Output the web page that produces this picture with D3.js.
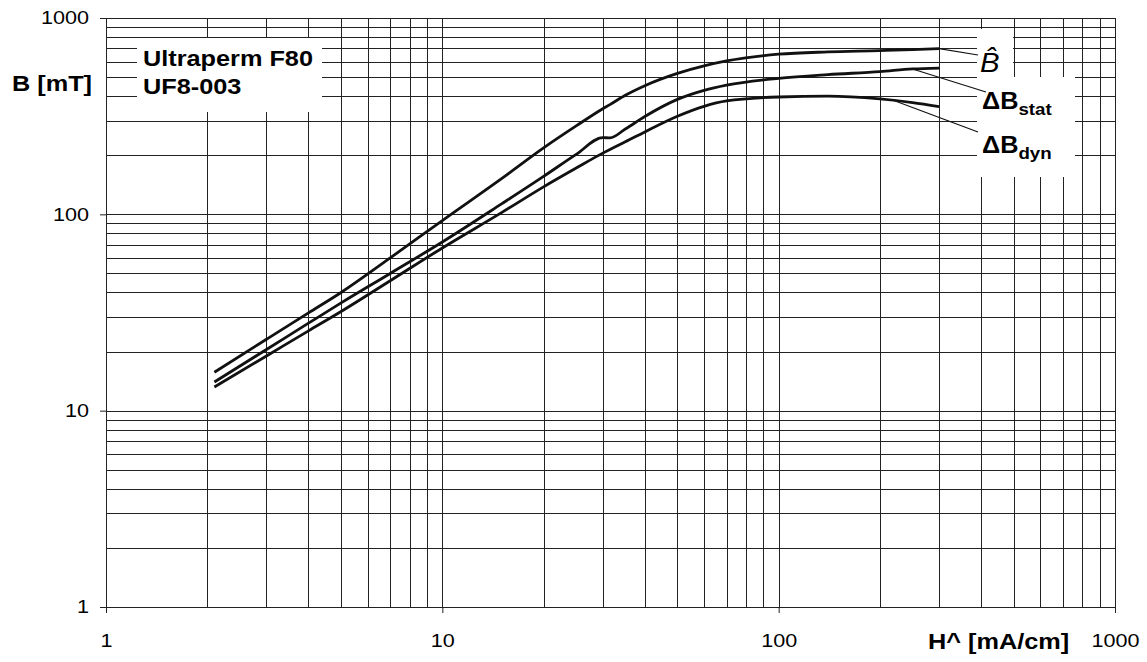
<!DOCTYPE html>
<html>
<head>
<meta charset="utf-8">
<script src="https://cdn.jsdelivr.net/npm/d3@7"></script>
<style>
  html, body { margin: 0; padding: 0; background: #fff; }
  svg { display: block; font-family: "Liberation Sans", Arial, sans-serif; }
</style>
</head>
<body>
<svg id="chart" width="1147" height="662"></svg>
<script>
// ---- data ----
const H = [2.1, 3, 4, 5, 7, 10, 15, 20, 25, 30, 31.5, 35, 40, 50, 60, 70, 100, 140, 200, 250, 300];
const B_hat   = [15.7, 23.1, 31.5, 40, 60, 93, 152, 218, 282, 345, 362, 404, 452, 522, 570, 604, 654, 672, 682, 690, 698];
const dB_stat = [14.0, 20.5, 27.9, 35.4, 50, 72.3, 113, 156, 202, 246, 245, 272, 315, 385, 428, 455, 493, 515, 533, 550, 556];
const dB_dyn  = [13.2, 19.0, 25.5, 32, 45.9, 67.4, 102, 138, 172, 205, 214, 234, 263, 316, 355, 378, 396, 400, 387, 371, 354];
const xTicks = [1, 10, 100, 1000];
const yTicks = [1, 10, 100, 1000];
const xLabel = "H^ [mA/cm]";
const yLabel = "B [mT]";
const materialLines = ["Ultraperm F80", "UF8-003"];

// ---- layout ----
const svg = d3.select("#chart");
const x = d3.scaleLog().domain([1, 1000]).range([106, 1115]);
const y = d3.scaleLog().domain([1, 1000]).range([607, 18]);
const INK = "#111";

// grid values
const gridVals = [];
[1, 10, 100].forEach(d => { for (let k = 1; k <= 9; k++) gridVals.push(d * k); });
gridVals.push(1000);

const grid = svg.append("g").attr("stroke", "#222").attr("stroke-width", 1.1).attr("shape-rendering", "crispEdges");
grid.selectAll("line.v").data(gridVals).join("line").attr("class", "v")
  .attr("x1", d => Math.round(x(d)) + 0.5).attr("x2", d => Math.round(x(d)) + 0.5)
  .attr("y1", y(1000)).attr("y2", y(1));
grid.selectAll("line.h").data(gridVals).join("line").attr("class", "h")
  .attr("y1", d => Math.round(y(d)) + 0.5).attr("y2", d => Math.round(y(d)) + 0.5)
  .attr("x1", x(1)).attr("x2", x(1000));

// axes (major ticks + labels)
const TSX = 1.2;
const yAxis = svg.append("g").attr("transform", `translate(${x(1)},0)`)
  .call(d3.axisLeft(y).tickValues(yTicks).tickSize(6).tickPadding(7).tickFormat(d3.format("d")));
const xAxis = svg.append("g").attr("transform", `translate(0,${y(1)})`)
  .call(d3.axisBottom(x).tickValues(xTicks).tickSize(6).tickPadding(21).tickFormat(d3.format("d")));
[yAxis, xAxis].forEach(a => {
  a.select(".domain").remove();
  a.selectAll(".tick line").attr("stroke", "#222");
  a.selectAll(".tick text").attr("font-size", 18).attr("fill", "#000")
    .attr("font-family", "Liberation Sans, Arial, sans-serif")
    .attr("transform", `scale(${TSX},1)`);
});
yAxis.selectAll(".tick text").attr("x", -17 / TSX);

// white label boxes over the grid
const boxes = [
  { x0: 137, y0: 38, x1: 322, y1: 112 },
  { x0: 977, y0: 29, x1: 1013, y1: 77 },
  { x0: 977, y0: 77, x1: 1075, y1: 177 }
];
svg.append("g").selectAll("rect").data(boxes).join("rect")
  .attr("x", d => d.x0).attr("y", d => d.y0)
  .attr("width", d => d.x1 - d.x0).attr("height", d => d.y1 - d.y0)
  .attr("fill", "#fff");

// curves
const series = [B_hat, dB_stat, dB_dyn];
const line = d3.line().x(d => x(d[0])).y(d => y(d[1])).curve(d3.curveMonotoneX);
svg.append("g").selectAll("path").data(series).join("path")
  .attr("d", s => line(H.map((h, i) => [h, s[i]])))
  .attr("fill", "none").attr("stroke", INK).attr("stroke-width", 2.8)
  .attr("stroke-linejoin", "round").attr("stroke-linecap", "butt");

// leader lines from near the curve ends to the legend labels
function valueAt(s, h) {
  const j = H.indexOf(h);
  if (j >= 0) return s[j];
  const k = H.findIndex(v => v > h);
  const t = (Math.log(h) - Math.log(H[k - 1])) / (Math.log(H[k]) - Math.log(H[k - 1]));
  return Math.exp(Math.log(s[k - 1]) + t * (Math.log(s[k]) - Math.log(s[k - 1])));
}
const leaders = [
  { s: B_hat,   h: 300, tx: 978, ty: 55 },
  { s: dB_stat, h: 250, tx: 986, ty: 92 },
  { s: dB_dyn,  h: 220, tx: 978, ty: 132 }
];
svg.append("g").selectAll("line").data(leaders).join("line")
  .attr("x1", d => x(d.h)).attr("y1", d => y(valueAt(d.s, d.h)))
  .attr("x2", d => d.tx).attr("y2", d => d.ty)
  .attr("stroke", INK).attr("stroke-width", 1.2);

// text helper (stretched horizontally like the original)
function txt(px, py, str, opts = {}) {
  const t = svg.append("text")
    .attr("transform", `translate(${px},${py}) scale(${opts.sx || 1.15},1)`)
    .attr("font-size", opts.size || 22)
    .attr("font-weight", opts.weight || "bold")
    .attr("font-style", opts.style || "normal")
    .attr("text-anchor", opts.anchor || "start")
    .attr("fill", "#000");
  if (str !== null) t.text(str);
  return t;
}

txt(12, 91, yLabel);
txt(928, 649, xLabel);
materialLines.forEach((s, i) => txt(143, 66 + i * 28, s));

// legend labels
txt(980, 72, "B\u0302", { size: 28, weight: "normal", style: "italic", sx: 1.05 });

const ls = txt(982, 109, null, { size: 23, sx: 1.1 });
ls.append("tspan").text("\u0394B");
ls.append("tspan").attr("font-size", 17).attr("dy", 6).text("stat");

const ld = txt(982, 153, null, { size: 23, sx: 1.1 });
ld.append("tspan").text("\u0394B");
ld.append("tspan").attr("font-size", 17).attr("dy", 6).text("dyn");
</script>
</body>
</html>
